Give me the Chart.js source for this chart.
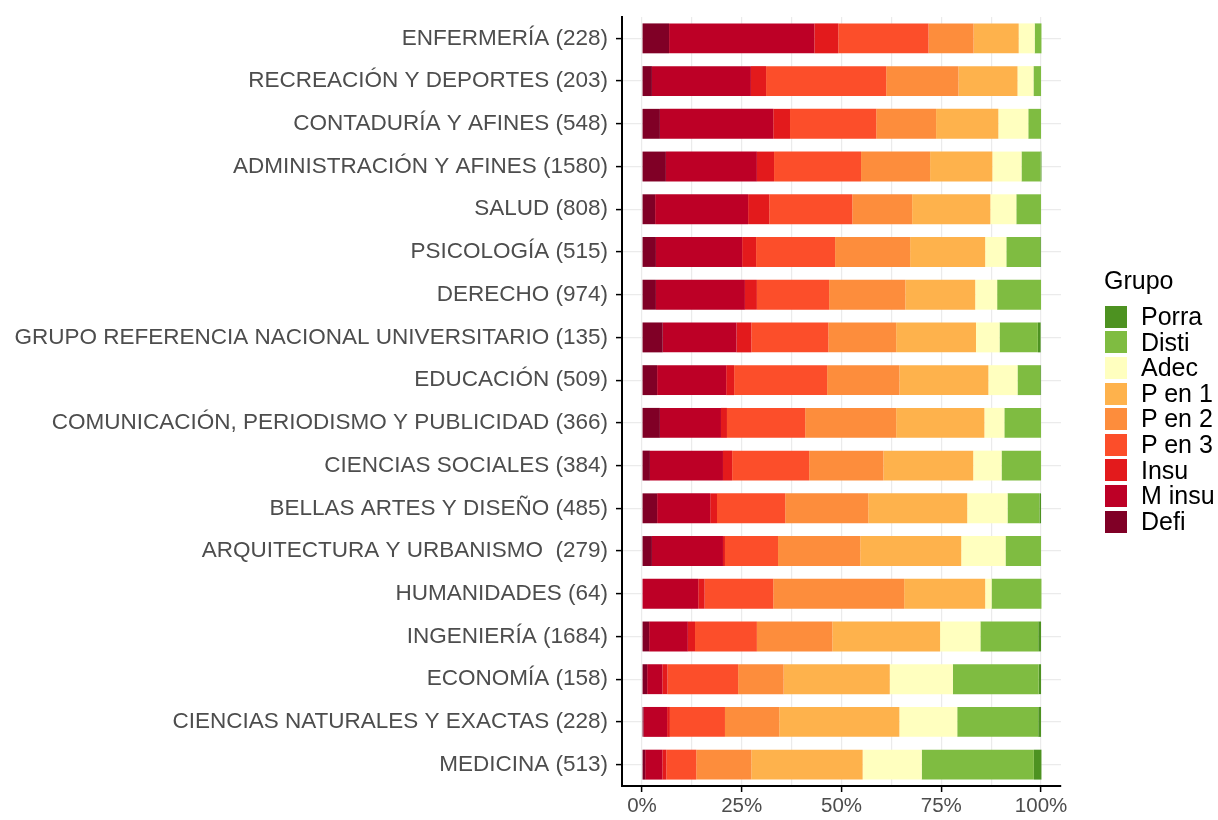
<!DOCTYPE html>
<html>
<head>
<meta charset="utf-8">
<script src="https://cdn.jsdelivr.net/npm/chart.js@4/dist/chart.umd.min.js"></script>
<style>
  body { margin: 0; background: #fff; }
  #wrap { position: relative; width: 1218px; height: 820px; }
  #legend { position: absolute; left: 1105px; top: 265px; font-family: "Liberation Sans", Arial, sans-serif; color: #000; }
  #legend .title { font-size: 25px; height: 30px; line-height: 30px; margin-bottom: 9px; margin-left: -1px; }
  #legend .item { display: flex; align-items: center; height: 25.6px; line-height: 25.6px; font-size: 25px; white-space: nowrap; }
  #legend .key { width: 22px; height: 22px; margin-right: 14px; flex: none; }
</style>
</head>
<body>
<div id="wrap">
  <canvas id="chart" width="1218" height="820"></canvas>
  <div id="legend"></div>
</div>
<script>
// categories, top to bottom
const carreras = [
    'ENFERMERÍA (228)',
    'RECREACIÓN Y DEPORTES (203)',
    'CONTADURÍA Y AFINES (548)',
    'ADMINISTRACIÓN Y AFINES (1580)',
    'SALUD (808)',
    'PSICOLOGÍA (515)',
    'DERECHO (974)',
    'GRUPO REFERENCIA NACIONAL UNIVERSITARIO (135)',
    'EDUCACIÓN (509)',
    'COMUNICACIÓN, PERIODISMO Y PUBLICIDAD (366)',
    'CIENCIAS SOCIALES (384)',
    'BELLAS ARTES Y DISEÑO (485)',
    'ARQUITECTURA Y URBANISMO  (279)',
    'HUMANIDADES (64)',
    'INGENIERÍA (1684)',
    'ECONOMÍA (158)',
    'CIENCIAS NATURALES Y EXACTAS (228)',
    'MEDICINA (513)'
];

// percentage per group (same order as carreras)
const defi   = [6.8, 2.5, 4.5, 6.0, 3.3, 3.5, 3.5, 5.2, 3.8, 4.5, 2.0, 3.8, 2.5, 0.0, 1.8, 1.3, 0.4, 0.8];
const mInsu  = [36.4, 24.8, 28.4, 22.8, 23.3, 21.6, 22.3, 18.5, 17.3, 15.3, 18.3, 13.3, 17.8, 14.1, 9.7, 3.8, 5.9, 4.3];
const insu   = [6.0, 3.8, 4.2, 4.3, 5.3, 3.5, 3.0, 3.7, 2.0, 1.5, 2.3, 1.7, 0.5, 1.6, 1.8, 1.3, 0.7, 1.0];
const pEn3   = [22.6, 30.1, 21.6, 21.8, 20.8, 19.8, 18.1, 19.3, 23.3, 19.6, 19.3, 17.1, 13.3, 17.2, 15.5, 17.7, 13.8, 7.5];
const pEn2   = [11.3, 18.1, 15.0, 17.3, 15.0, 18.8, 19.1, 17.0, 18.1, 22.8, 18.6, 20.8, 20.6, 32.8, 18.9, 11.4, 13.6, 13.8];
const pEn1   = [11.3, 14.8, 15.6, 15.6, 19.6, 18.8, 17.5, 20.0, 22.3, 22.1, 22.5, 24.8, 25.3, 20.3, 27.0, 26.6, 30.1, 27.9];
const adec   = [4.0, 4.0, 7.5, 7.3, 6.5, 5.3, 5.5, 5.9, 7.3, 5.0, 7.1, 10.1, 11.1, 1.6, 10.1, 15.8, 14.5, 14.8];
const disti  = [1.7, 1.9, 3.2, 4.8, 6.2, 8.5, 11.0, 9.6, 5.7, 9.2, 9.9, 8.0, 8.9, 12.5, 14.5, 21.5, 20.3, 28.1];
const porra  = [0.0, 0.0, 0.0, 0.2, 0.0, 0.2, 0.0, 0.7, 0.2, 0.0, 0.0, 0.4, 0.0, 0.0, 0.7, 0.6, 0.7, 1.9];

const xTicks = [0, 12.5, 25, 37.5, 50, 62.5, 75, 87.5, 100];

// stacking order left -> right
const grupos = [
    { label: 'Defi',   data: defi,  color: '#800026' },
    { label: 'M insu', data: mInsu, color: '#BD0026' },
    { label: 'Insu',   data: insu,  color: '#E31A1C' },
    { label: 'P en 3', data: pEn3,  color: '#FC4E2A' },
    { label: 'P en 2', data: pEn2,  color: '#FD8D3C' },
    { label: 'P en 1', data: pEn1,  color: '#FEB24C' },
    { label: 'Adec',   data: adec,  color: '#FFFFBF' },
    { label: 'Disti',  data: disti, color: '#7FBC41' },
    { label: 'Porra',  data: porra, color: '#4D9221' }
];

const gridGrey = '#EBEBEB';

const ctx = document.getElementById('chart').getContext('2d');
new Chart(ctx, {
    type: 'bar',
    data: {
        labels: carreras,
        datasets: grupos.map(g => ({
            label: g.label,
            data: g.data,
            backgroundColor: g.color,
            borderWidth: 0,
            barPercentage: 0.7,
            categoryPercentage: 1.0
        }))
    },
    options: {
        indexAxis: 'y',
        responsive: false,
        animation: false,
        layout: { padding: { top: 17, right: 157, bottom: 0, left: 0 } },
        plugins: {
            legend: { display: false },
            tooltip: { enabled: false }
        },
        scales: {
            x: {
                stacked: true,
                min: -5,
                max: 105,
                afterBuildTicks: axis => { axis.ticks = xTicks.map(v => ({ value: v })); },
                afterFit: axis => { axis.height = 34; },
                grid: {
                    color: gridGrey,
                    lineWidth: 1.2,
                    tickLength: 6,
                    tickColor: c => (c.tick && c.tick.value % 25 === 0) ? '#000' : 'rgba(0,0,0,0)',
                    tickWidth: 1.5
                },
                border: { color: '#000', width: 2 },
                ticks: {
                    autoSkip: false,
                    maxRotation: 0,
                    padding: 2,
                    color: '#4D4D4D',
                    font: { family: 'Liberation Sans', size: 20.5 },
                    callback: v => (v % 25 === 0) ? v + '%' : ''
                }
            },
            y: {
                stacked: true,
                afterFit: axis => {
                    axis.width = 622;
                    axis.paddingTop = 0;
                    axis.paddingBottom = 0;
                },
                grid: {
                    offset: false,
                    color: gridGrey,
                    lineWidth: 1.2,
                    tickLength: 6,
                    tickColor: '#000',
                    tickWidth: 1.5
                },
                border: { color: '#000', width: 2 },
                ticks: {
                    autoSkip: false,
                    padding: 8,
                    color: '#4D4D4D',
                    font: { family: 'Liberation Sans', size: 22.5 }
                }
            }
        }
    }
});

// legend, top item = last stacked group
const legend = document.getElementById('legend');
let html = '<div class="title">Grupo</div>';
grupos.slice().reverse().forEach(g => {
    html += '<div class="item"><span class="key" style="background:' + g.color + '"></span>' + g.label + '</div>';
});
legend.innerHTML = html;
</script>
</body>
</html>
